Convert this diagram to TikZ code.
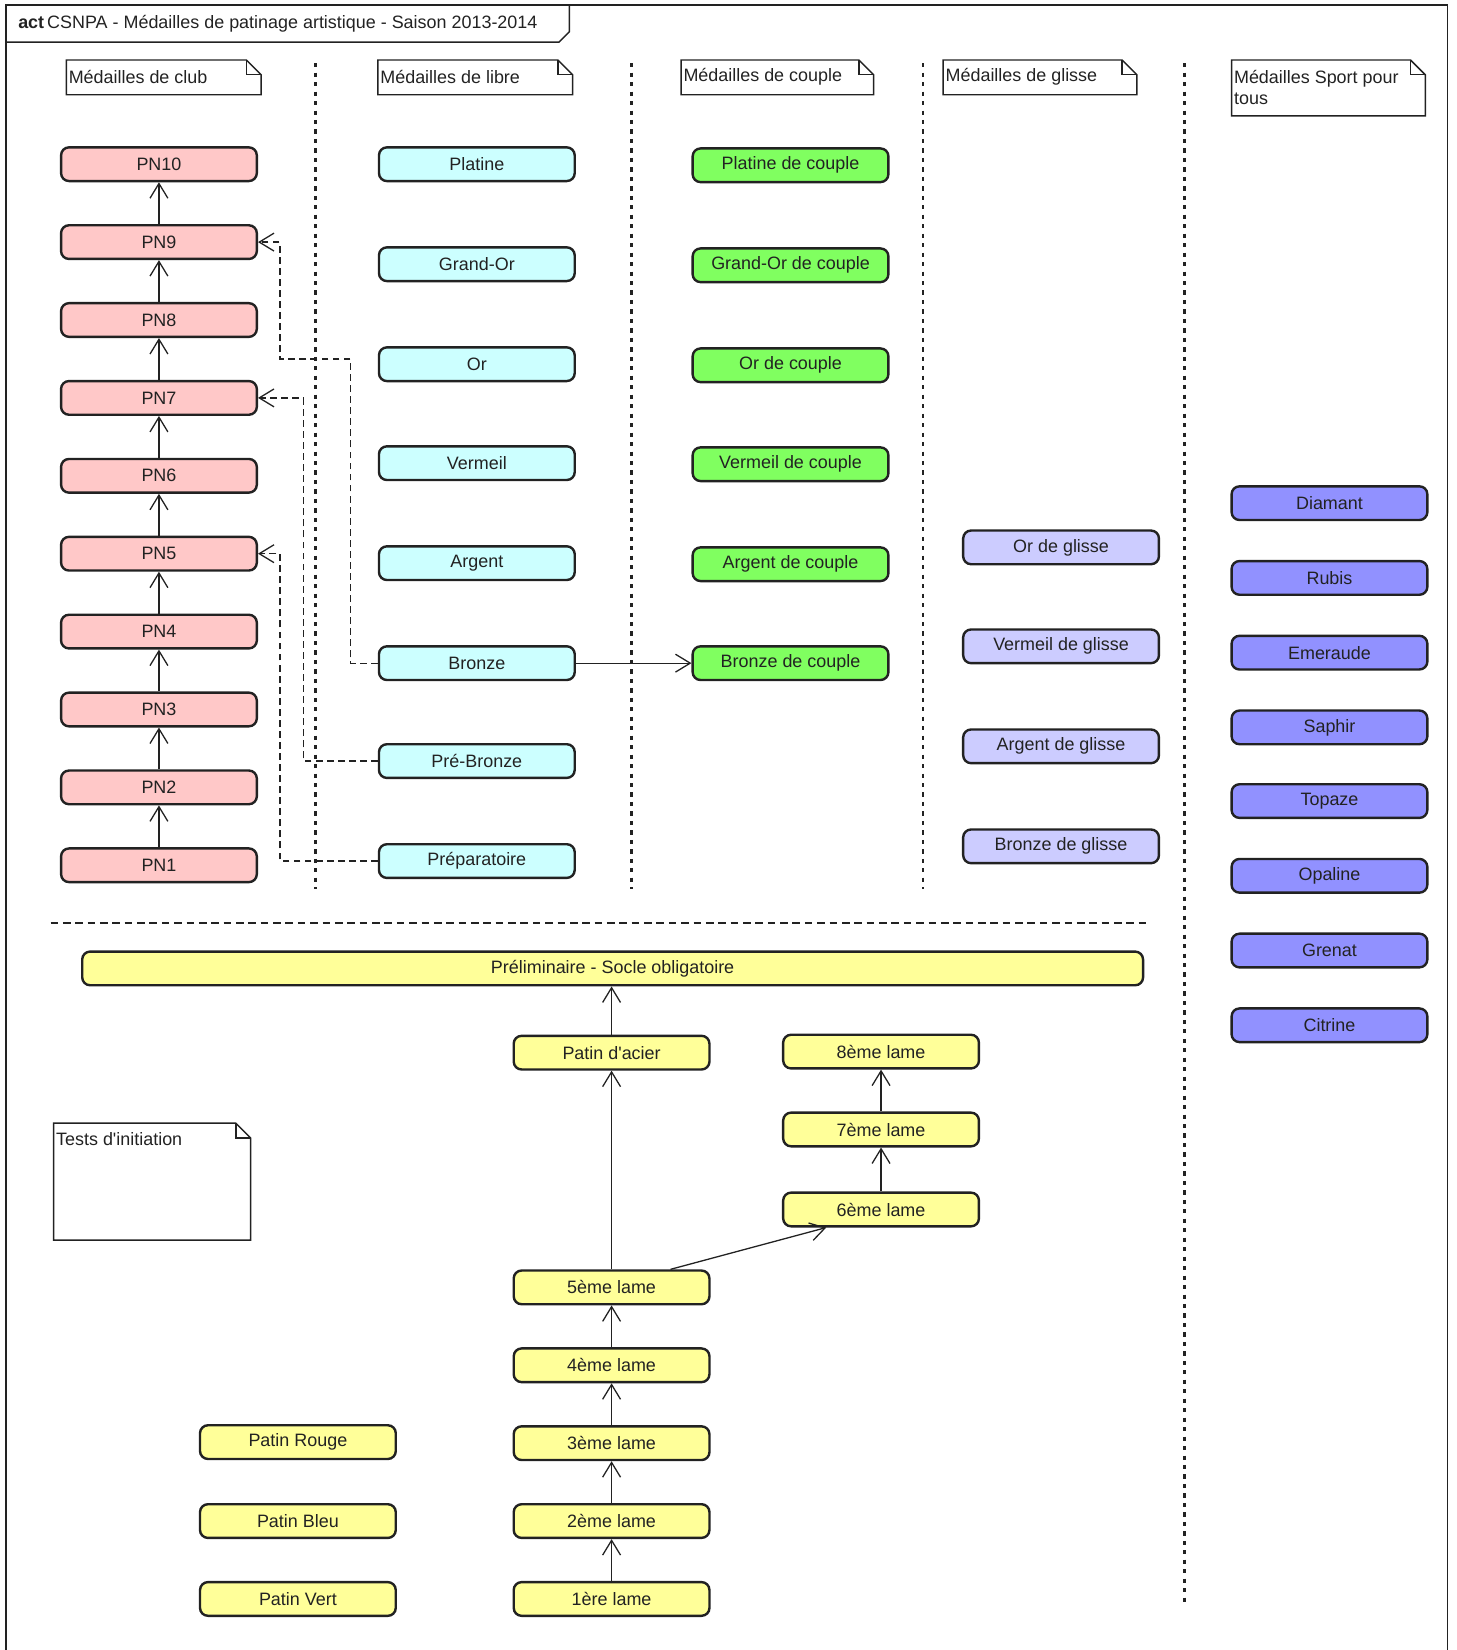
\documentclass[tikz,border=0pt]{standalone}
\usepackage{fontspec}
\setmainfont{Liberation Sans}[Ligatures=TeXOff]
\usetikzlibrary{arrows.meta}

\definecolor{clubpink}{RGB}{255,200,200}
\definecolor{librecyan}{RGB}{204,255,255}
\definecolor{couplegreen}{RGB}{128,255,96}
\definecolor{glisseblue}{RGB}{204,204,255}
\definecolor{sportblue}{RGB}{145,145,255}
\definecolor{inityellow}{RGB}{255,255,153}
\definecolor{ink}{RGB}{34,34,34}

\tikzset{
  every node/.style={font=\fontsize{9.7}{11.4}\selectfont, text=ink},
  action/.style={draw=ink, line width=1.3pt, rounded corners=1.5mm, minimum width=3.72cm, minimum height=0.64cm, inner sep=0pt},
  club/.style={action, fill=clubpink},
  libre/.style={action, fill=librecyan},
  couple/.style={action, fill=couplegreen},
  glisse/.style={action, fill=glisseblue},
  sport/.style={action, fill=sportblue},
  init/.style={action, fill=inityellow},
  flow/.style={draw=ink, line width=0.7pt, -{Straight Barb[length=2.8mm,width=3.4mm]}},
  trace/.style={flow, dash pattern=on 1.3mm off 0.8mm},
  lane/.style={draw=ink, line width=1.4pt, dash pattern=on 0.8mm off 1mm},
  split/.style={draw=ink, line width=1.3pt, dash pattern=on 1.45mm off 0.9mm},
  memo/.style={draw=ink, line width=0.8pt},
  memotext/.style={anchor=west, align=left, inner sep=0pt}
}

\begin{document}
\begin{tikzpicture}[x=0.02cm, y=-0.02cm]
\useasboundingbox (0,0) rectangle (1384.1,1567.5);
\draw[memo, line width=0.9pt] (6,5) rectangle (1375,1580);
\draw[memo] (6,40) -- (531,40) -- (541,30) -- (541,5);
\draw (17,23) node[memotext] (title) {\textbf{act}\,CSNPA - Médailles de patinage artistique - Saison 2013-2014};

\draw[memo] (63,57) -- (234,57) -- (248,71) -- (248,90) -- (63,90) -- cycle;
\draw[memo] (234,57) |- (248,71);
\draw (65,73) node[memotext] (nclub) {Médailles de club};
\draw[memo] (359,57) -- (530,57) -- (544,71) -- (544,90) -- (359,90) -- cycle;
\draw[memo] (530,57) |- (544,71);
\draw (361,73) node[memotext] (nlibre) {Médailles de libre};
\draw[memo] (647,57) -- (816,57) -- (830,71) -- (830,90) -- (647,90) -- cycle;
\draw[memo] (816,57) |- (830,71);
\draw (649,73) node[memotext] (ncouple) {Médailles de couple};
\draw[memo] (896,57) -- (1066,57) -- (1080,71) -- (1080,90) -- (896,90) -- cycle;
\draw[memo] (1066,57) |- (1080,71);
\draw (898,73) node[memotext] (nglisse) {Médailles de glisse};
\draw[memo] (1170,57) -- (1340,57) -- (1354,71) -- (1354,110) -- (1170,110) -- cycle;
\draw[memo] (1340,57) |- (1354,71);
\draw (1172,83) node[memotext] (nsport) {Médailles Sport pour\\tous};
\draw[memo] (51,1067) -- (224,1067) -- (238,1081) -- (238,1178) -- (51,1178) -- cycle;
\draw[memo] (224,1067) |- (238,1081);
\draw (53,1082) node[memotext] (ntests) {Tests d'initiation};

\draw[lane] (300,60) -- (300,845);
\draw[lane] (600,60) -- (600,845);
\draw[lane] (877,60) -- (877,845);
\draw[lane] (1125,60) -- (1125,1525);
\draw[split] (48,877) -- (1090,877);

\draw (151,156) node[club] (pn10) {PN10};
\draw (151,230) node[club] (pn9) {PN9};
\draw (151,304) node[club] (pn8) {PN8};
\draw (151,378) node[club] (pn7) {PN7};
\draw (151,452) node[club] (pn6) {PN6};
\draw (151,526) node[club] (pn5) {PN5};
\draw (151,600) node[club] (pn4) {PN4};
\draw (151,674) node[club] (pn3) {PN3};
\draw (151,748) node[club] (pn2) {PN2};
\draw (151,822) node[club] (pn1) {PN1};

\draw (453,156) node[libre] (lplatine) {Platine};
\draw (453,251) node[libre] (lgrandor) {Grand-Or};
\draw (453,346) node[libre] (lor) {Or};
\draw (453,440) node[libre] (lvermeil) {Vermeil};
\draw (453,535) node[libre] (largent) {Argent};
\draw (453,630) node[libre] (lbronze) {Bronze};
\draw (453,723) node[libre] (lprebronze) {Pré-Bronze};
\draw (453,818) node[libre] (lprep) {Préparatoire};

\draw (751,157) node[couple] (cplatine) {Platine de couple};
\draw (751,252) node[couple] (cgrandor) {Grand-Or de couple};
\draw (751,347) node[couple] (cor) {Or de couple};
\draw (751,441) node[couple] (cvermeil) {Vermeil de couple};
\draw (751,536) node[couple] (cargent) {Argent de couple};
\draw (751,630) node[couple] (cbronze) {Bronze de couple};

\draw (1008,520) node[glisse] (gor) {Or de glisse};
\draw (1008,614) node[glisse] (gvermeil) {Vermeil de glisse};
\draw (1008,709) node[glisse] (gargent) {Argent de glisse};
\draw (1008,804) node[glisse] (gbronze) {Bronze de glisse};

\draw (1263,478) node[sport] (diamant) {Diamant};
\draw (1263,549) node[sport] (rubis) {Rubis};
\draw (1263,620) node[sport] (emeraude) {Emeraude};
\draw (1263,691) node[sport] (saphir) {Saphir};
\draw (1263,761) node[sport] (topaze) {Topaze};
\draw (1263,832) node[sport] (opaline) {Opaline};
\draw (1263,903) node[sport] (grenat) {Grenat};
\draw (1263,974) node[sport] (citrine) {Citrine};

\draw (582,920) node[init, minimum width=20.16cm] (prelim) {Préliminaire - Socle obligatoire};
\draw (581,1000) node[init] (acier) {Patin d'acier};
\draw (581,1223) node[init] (l5) {5ème lame};
\draw (581,1297) node[init] (l4) {4ème lame};
\draw (581,1371) node[init] (l3) {3ème lame};
\draw (581,1445) node[init] (l2) {2ème lame};
\draw (581,1519) node[init] (l1) {1ère lame};
\draw (837,999) node[init] (l8) {8ème lame};
\draw (837,1073) node[init] (l7) {7ème lame};
\draw (837,1149) node[init] (l6) {6ème lame};
\draw (283,1370) node[init] (rouge) {Patin Rouge};
\draw (283,1445) node[init] (bleu) {Patin Bleu};
\draw (283,1519) node[init] (vert) {Patin Vert};

\draw[flow] (pn1) -- (pn2);
\draw[flow] (pn2) -- (pn3);
\draw[flow] (pn3) -- (pn4);
\draw[flow] (pn4) -- (pn5);
\draw[flow] (pn5) -- (pn6);
\draw[flow] (pn6) -- (pn7);
\draw[flow] (pn7) -- (pn8);
\draw[flow] (pn8) -- (pn9);
\draw[flow] (pn9) -- (pn10);
\draw[flow] (lbronze) -- (cbronze);
\draw[trace] (lbronze) -| (333,341) -- (266,341) |- (pn9);
\draw[trace] (lprebronze) -| (288,378) -- (pn7);
\draw[trace] (lprep) -| (266,526) -- (pn5);

\draw[flow] (l1) -- (l2);
\draw[flow] (l2) -- (l3);
\draw[flow] (l3) -- (l4);
\draw[flow] (l4) -- (l5);
\draw[flow] (l5) -- (acier);
\draw[flow] (acier) -- (acier |- prelim.south);
\draw[flow] ([xshift=1.12cm]l5.north) -- ([xshift=-1.04cm]l6.south);
\draw[flow] (l6) -- (l7);
\draw[flow] (l7) -- (l8);
\end{tikzpicture}
\end{document}
